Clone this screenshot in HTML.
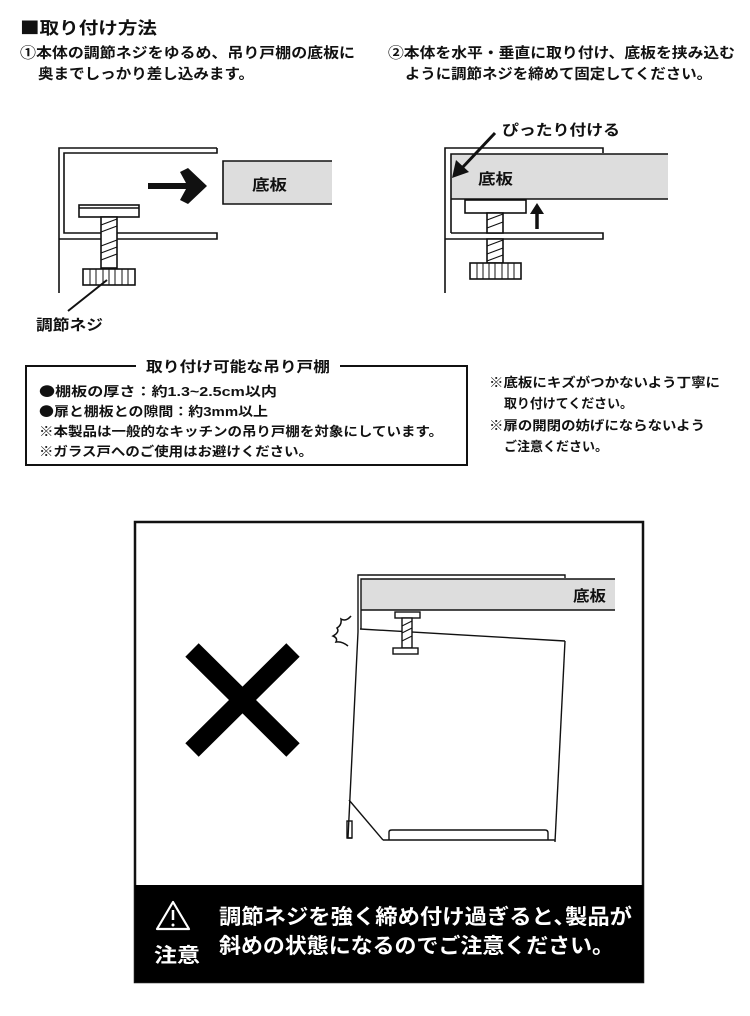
<!DOCTYPE html>
<html><head><meta charset="utf-8"><style>
html,body{margin:0;padding:0;background:#fff}
svg{display:block}
text{font-family:"Liberation Sans","Noto Sans CJK JP",sans-serif;font-weight:bold;fill:#111}
.j{font-family:"Noto Sans CJK JP",sans-serif}
</style></head><body>
<svg width="750" height="1016" viewBox="0 0 750 1016" xmlns="http://www.w3.org/2000/svg">
<rect width="750" height="1016" fill="#fff"/>
<text x="20" y="34" font-size="17" textLength="137" lengthAdjust="spacingAndGlyphs"><tspan class="j">■</tspan>取り付け方法</text>
<text x="20" y="58" font-size="14.5" textLength="335" lengthAdjust="spacingAndGlyphs">①本体の調節ネジをゆるめ、吊り戸棚の底板に</text>
<text x="38" y="79" font-size="14.5" textLength="216" lengthAdjust="spacingAndGlyphs">奥までしっかり差し込みます。</text>
<text x="388" y="58" font-size="14.5" textLength="347" lengthAdjust="spacingAndGlyphs">②本体を水平・垂直に取り付け、底板を挟み込む</text>
<text x="405" y="79" font-size="14.5" textLength="307" lengthAdjust="spacingAndGlyphs">ように調節ネジを締めて固定してください。</text>

<!-- diagram 1 -->
<g fill="none" stroke="#111" stroke-width="1.6">
<polyline points="217,148 59,148 59,293"/>
<polyline points="217,148 217,153 64,153 64,233 217,233 217,239 59,239"/>
<rect x="223" y="161" width="109" height="43" fill="#ddd" stroke="none"/>
<polyline points="332,161 223,161 223,204 332,204"/>
<rect x="79" y="205" width="60" height="12" fill="#fff"/>
<line x1="79" y1="208" x2="139" y2="208"/>
<rect x="101" y="217" width="16" height="51" fill="#fff"/>
<path d="M101,225 L117,219 M101,232 L117,226 M101,246 L117,240 M101,253 L117,247 M101,260 L117,254" stroke-width="1.2"/>
<rect x="83" y="269" width="52" height="16" fill="#fff"/>
<path d="M90,269v16M96,269v16M103,269v16M109,269v16M115,269v16M122,269v16M128,269v16" stroke-width="1"/>
<line x1="107" y1="280" x2="68" y2="311" stroke-width="2"/>
</g>
<path d="M148,183 H186 L180,172 L188,168 L207,186 L188,204 L180,200 L186,189 H148 Z" fill="#111"/>
<text x="252" y="190" font-size="15" textLength="35" lengthAdjust="spacingAndGlyphs">底板</text>
<text x="36" y="330" font-size="15" textLength="67" lengthAdjust="spacingAndGlyphs">調節ネジ</text>

<!-- diagram 2 -->
<g fill="none" stroke="#111" stroke-width="1.6">
<polyline points="603,153 603,148 445,148 445,293"/>
<rect x="451" y="154" width="217" height="45" fill="#ddd" stroke="none"/>
<polyline points="668,154 451,154 451,233"/>
<line x1="451" y1="199" x2="668" y2="199"/>
<polyline points="451,233 603,233 603,239 445,239"/>
<rect x="465" y="200" width="61" height="13" fill="#fff"/>
<rect x="487" y="213" width="16" height="20" fill="#fff"/>
<rect x="487" y="239" width="16" height="24" fill="#fff"/>
<path d="M487,220 L503,214 M487,228 L503,222 M487,246 L503,240 M487,254 L503,248 M487,261 L503,255" stroke-width="1.2"/>
<rect x="470" y="263" width="51" height="16" fill="#fff"/>
<path d="M477,263v16M483,263v16M489,263v16M495,263v16M502,263v16M508,263v16M514,263v16" stroke-width="1"/>
<line x1="537" y1="229" x2="537" y2="212" stroke-width="3.5"/>
<line x1="495" y1="133" x2="462" y2="168" stroke-width="3"/>
</g>
<path d="M530,214 L537,203 L544,214 Z" fill="#111"/>
<path d="M452,178 L456,160 L469,172 Z" fill="#111"/>
<text x="502" y="135" font-size="15" textLength="118" lengthAdjust="spacingAndGlyphs">ぴったり付ける</text>
<text x="478" y="184" font-size="15" textLength="35" lengthAdjust="spacingAndGlyphs">底板</text>

<!-- spec box -->
<rect x="26" y="366" width="441" height="99" fill="none" stroke="#111" stroke-width="2"/>
<rect x="136" y="358" width="204" height="18" fill="#fff"/>
<text x="146" y="372" font-size="14.5" textLength="184" lengthAdjust="spacingAndGlyphs">取り付け可能な吊り戸棚</text>
<text x="39" y="396" font-size="13" textLength="238" lengthAdjust="spacingAndGlyphs"><tspan class="j">●</tspan>棚板の厚さ：約1.3~2.5cm以内</text>
<text x="39" y="416" font-size="13" textLength="229" lengthAdjust="spacingAndGlyphs"><tspan class="j">●</tspan>扉と棚板との隙間：約3mm以上</text>
<text x="39" y="436" font-size="13" textLength="404" lengthAdjust="spacingAndGlyphs">※本製品は一般的なキッチンの吊り戸棚を対象にしています。</text>
<text x="39" y="456" font-size="13" textLength="274" lengthAdjust="spacingAndGlyphs">※ガラス戸へのご使用はお避けください。</text>
<text x="489" y="387" font-size="13" textLength="231" lengthAdjust="spacingAndGlyphs">※底板にキズがつかないよう丁寧に</text>
<text x="504" y="408" font-size="13" textLength="129" lengthAdjust="spacingAndGlyphs">取り付けてください。</text>
<text x="489" y="430" font-size="13" textLength="216" lengthAdjust="spacingAndGlyphs">※扉の開閉の妨げにならないよう</text>
<text x="504" y="451" font-size="13" textLength="104" lengthAdjust="spacingAndGlyphs">ご注意ください。</text>

<!-- bottom box -->
<rect x="135" y="522" width="508" height="460" fill="none" stroke="#111" stroke-width="2.5"/>
<path d="M192,650 L293,750 M293,650 L192,750" stroke="#000" stroke-width="19"/>
<g fill="none" stroke="#111" stroke-width="1.4">
<rect x="361" y="579" width="254" height="31" fill="#ddd" stroke="none"/>
<polyline points="565,578 565,575 358,575 358,632"/>
<polyline points="615,579 361,579 361,629"/>
<line x1="361" y1="610" x2="615" y2="610"/>
<polyline points="360,629 565,641"/>
<polyline points="358,632 348,838 352,838"/>
<line x1="565" y1="641" x2="555" y2="842"/>
<line x1="383" y1="840" x2="555" y2="840"/>
<line x1="349" y1="800" x2="383" y2="840"/>
<path d="M389,840 V832 Q389,830 392,830 H545 Q548,830 548,833 V840"/>
<rect x="347" y="821" width="5" height="17"/>
<rect x="395" y="612" width="25" height="6" fill="#fff"/>
<rect x="402" y="618" width="10" height="30" fill="#fff"/>
<path d="M402,626 L412,621 M402,633 L412,628 M402,641 L412,636" stroke-width="1"/>
<rect x="393" y="648" width="25" height="6" fill="#fff"/>
<path d="M351,616 Q346,622 341,619 Q342,625 337,628 Q340,632 333,636 Q338,638 336,642 Q342,641 348,646" stroke-width="1.5"/>
</g>
<text x="573" y="601" font-size="15" textLength="33" lengthAdjust="spacingAndGlyphs">底板</text>

<rect x="135" y="885" width="508" height="97" fill="#000"/>
<path d="M173,902 L189,929 L157,929 Z" fill="none" stroke="#fff" stroke-width="2.2" stroke-linejoin="round"/>
<line x1="173" y1="910" x2="173" y2="920" stroke="#fff" stroke-width="2.5"/>
<circle cx="173" cy="925" r="1.5" fill="#fff"/>
<text x="154" y="962" font-size="20" textLength="46" lengthAdjust="spacingAndGlyphs" style="fill:#fff">注意</text>
<text x="219" y="924" font-size="21" textLength="413" lengthAdjust="spacingAndGlyphs" style="fill:#fff">調節ネジを強く締め付け過ぎると､製品が</text>
<text x="219" y="953" font-size="21" textLength="395" lengthAdjust="spacingAndGlyphs" style="fill:#fff">斜めの状態になるのでご注意ください。</text>
</svg>
</body></html>
